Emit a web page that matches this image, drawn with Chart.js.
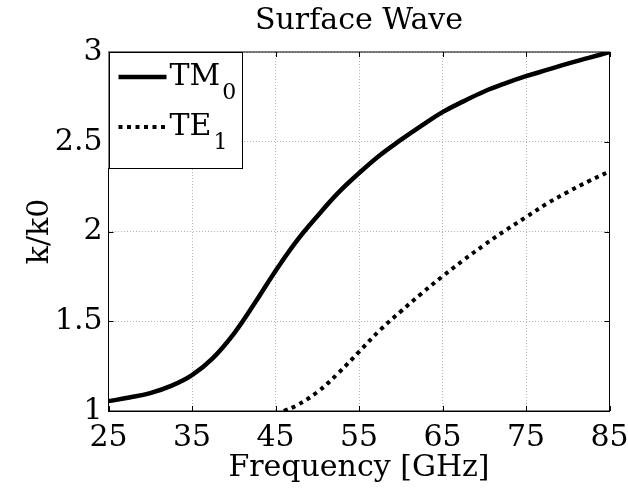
<!DOCTYPE html>
<html>
<head>
<meta charset="utf-8">
<script src="https://cdn.jsdelivr.net/npm/chart.js@4.4.1/dist/chart.umd.min.js"></script>
<style>
  html, body { margin: 0; padding: 0; background: #fff; }
  #wrap { width: 628px; height: 491px; }
</style>
</head>
<body>
<div id="wrap"><canvas id="c" width="628" height="491"></canvas></div>
<script>
// ---- data ----
const titleText = 'Surface Wave';
const xLabel = 'Frequency [GHz]';
const yLabel = 'k/k0';
const xTicks = [25, 35, 45, 55, 65, 75, 85];
const yTicks = [1, 1.5, 2, 2.5, 3];

const tmFreq = [25, 27.5, 30, 32.5, 35, 37.5, 40, 42.5, 45, 47.5, 50, 52.5, 55, 57.5, 60, 62.5, 65, 67.5, 70, 72.5, 75, 77.5, 80, 82.5, 85];
const tmVals = [1.055, 1.075, 1.10, 1.14, 1.20, 1.295, 1.43, 1.60, 1.78, 1.945, 2.085, 2.215, 2.325, 2.425, 2.51, 2.59, 2.665, 2.725, 2.78, 2.825, 2.865, 2.90, 2.935, 2.967, 3.0];

const teFreq = [46, 47.5, 50, 52.5, 55, 57.5, 60, 62.5, 65, 67.5, 70, 72.5, 75, 77.5, 80, 82.5, 85];
const teVals = [1.0, 1.03, 1.105, 1.21, 1.33, 1.45, 1.555, 1.655, 1.75, 1.84, 1.925, 2.005, 2.08, 2.155, 2.22, 2.28, 2.335];

const seriesNames = [['TM', '0'], ['TE', '1']];

const FONT = "'DejaVu Serif', serif";

const toPts = (xs, ys) => xs.map((x, i) => ({ x: x, y: ys[i] }));

// title centred over the plot area
const titlePlugin = {
  id: 'plotTitle',
  afterDraw(chart) {
    const { ctx, chartArea: a } = chart;
    ctx.save();
    ctx.fillStyle = '#000';
    ctx.font = '30px ' + FONT;
    ctx.textAlign = 'center';
    ctx.textBaseline = 'middle';
    ctx.fillText(titleText, (a.left + a.right) / 2, 21);
    ctx.restore();
  }
};

// frame + inward ticks
const framePlugin = {
  id: 'frame',
  afterDatasetsDraw(chart) {
    const { ctx, chartArea: a, scales } = chart;
    ctx.save();
    ctx.strokeStyle = '#000';
    ctx.lineWidth = 1;
    ctx.setLineDash([]);
    ctx.strokeRect(a.left, a.top, a.right - a.left, a.bottom - a.top);
    const tl = 5;
    ctx.beginPath();
    scales.x.ticks.forEach(t => {
      const px = Math.round(scales.x.getPixelForValue(t.value)) + 0.5;
      ctx.moveTo(px, a.bottom); ctx.lineTo(px, a.bottom - tl);
      ctx.moveTo(px, a.top); ctx.lineTo(px, a.top + tl);
    });
    scales.y.ticks.forEach(t => {
      const py = Math.round(scales.y.getPixelForValue(t.value)) + 0.5;
      ctx.moveTo(a.left, py); ctx.lineTo(a.left + tl, py);
      ctx.moveTo(a.right, py); ctx.lineTo(a.right - tl, py);
    });
    ctx.stroke();
    ctx.restore();
  }
};

// legend inside top-left corner
const legendPlugin = {
  id: 'innerLegend',
  afterDraw(chart) {
    const { ctx, chartArea: a } = chart;
    const x0 = a.left, y0 = a.top, w = 133, h = 116;
    ctx.save();
    ctx.fillStyle = '#fff';
    ctx.fillRect(x0, y0, w, h);
    ctx.strokeStyle = '#000';
    ctx.lineWidth = 1;
    ctx.setLineDash([]);
    ctx.strokeRect(Math.round(x0) + 0.5, Math.round(y0) + 0.5, w, h);
    const rows = [y0 + 25, y0 + 75];
    chart.data.datasets.forEach((ds, i) => {
      const ry = rows[i];
      ctx.beginPath();
      ctx.lineWidth = ds.borderWidth;
      ctx.strokeStyle = '#000';
      ctx.setLineDash(ds.borderDash || []);
      ctx.lineCap = 'butt';
      ctx.moveTo(x0 + 10, ry);
      ctx.lineTo(x0 + 58, ry);
      ctx.stroke();
      ctx.setLineDash([]);
      ctx.fillStyle = '#000';
      ctx.textBaseline = 'middle';
      ctx.textAlign = 'left';
      ctx.font = '30px ' + FONT;
      const main = seriesNames[i][0];
      ctx.fillText(main, x0 + 61, ry);
      const mw = ctx.measureText(main).width;
      ctx.font = '22px ' + FONT;
      ctx.fillText(seriesNames[i][1], x0 + 61 + mw + 2, ry + 16);
    });
    ctx.restore();
  }
};

new Chart(document.getElementById('c'), {
  type: 'line',
  data: {
    datasets: [
      {
        label: 'TM0',
        data: toPts(tmFreq, tmVals),
        borderColor: '#000',
        borderWidth: 4.5,
        pointRadius: 0,
        fill: false,
        tension: 0.4
      },
      {
        label: 'TE1',
        data: toPts(teFreq, teVals),
        borderColor: '#000',
        borderWidth: 4,
        borderDash: [4, 4.5],
        borderCapStyle: 'butt',
        pointRadius: 0,
        fill: false,
        tension: 0.4
      }
    ]
  },
  options: {
    responsive: false,
    animation: false,
    devicePixelRatio: 1,
    layout: { padding: { left: 0, right: 18.5, top: 52, bottom: 0 } },
    plugins: {
      legend: { display: false },
      tooltip: { enabled: false },
      title: { display: false }
    },
    scales: {
      x: {
        type: 'linear',
        min: 25, max: 85,
        afterBuildTicks(s) { s.ticks = xTicks.map(v => ({ value: v })); },
        afterFit(s) { s.height = 80; s.paddingLeft = 0; s.paddingRight = 0; },
        ticks: { color: '#000', font: { family: FONT, size: 30 }, padding: 9, maxRotation: 0, autoSkip: false, callback: v => String(v) },
        grid: { color: '#b4b4b4', lineWidth: 1, drawTicks: false },
        border: { display: true, color: '#000', width: 1, dash: [1, 2] },
        title: { display: true, text: xLabel, color: '#000', font: { family: FONT, size: 30, lineHeight: 1.2 }, padding: { top: 0, bottom: 5 } }
      },
      y: {
        type: 'linear',
        min: 1, max: 3,
        afterBuildTicks(s) { s.ticks = yTicks.map(v => ({ value: v })); },
        afterFit(s) { s.width = 108.5; s.paddingTop = 0; s.paddingBottom = 0; },
        ticks: { color: '#000', font: { family: FONT, size: 30 }, padding: 6, autoSkip: false, callback: v => String(v) },
        grid: { color: '#b4b4b4', lineWidth: 1, drawTicks: false },
        border: { display: true, color: '#000', width: 1, dash: [1, 2] },
        title: { display: true, text: yLabel, color: '#000', font: { family: FONT, size: 30, lineHeight: 1.2 }, padding: { top: 22, bottom: 0 } }
      }
    }
  },
  plugins: [titlePlugin, framePlugin, legendPlugin]
});
</script>
</body>
</html>
